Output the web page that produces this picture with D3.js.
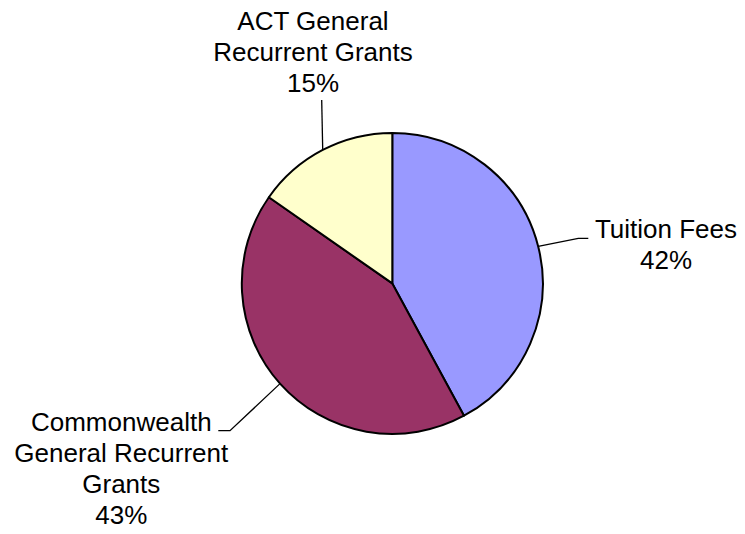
<!DOCTYPE html>
<html>
<head>
<meta charset="utf-8">
<script src="https://cdn.jsdelivr.net/npm/d3@7/dist/d3.min.js"></script>
<style>
  html, body { margin: 0; padding: 0; background: #fff; }
  svg { display: block; }
  text { font-family: "Liberation Sans", Arial, sans-serif; font-size: 26px; fill: #000; }
</style>
</head>
<body>
<svg id="chart" width="745" height="534"></svg>
<script>
// ---- data ----
const categories = ["Tuition Fees", "Commonwealth General Recurrent Grants", "ACT General Recurrent Grants"];
const values = [42.1, 42.6, 15.3];
const labelLines = [
  ["Tuition Fees"],
  ["Commonwealth", "General Recurrent", "Grants"],
  ["ACT General", "Recurrent Grants"]
];
const colors = ["#9999FF", "#993366", "#FFFFCC"];

// ---- layout (not data) ----
const W = 745, H = 534;
const cx = 392.3, cy = 283.4, R = 150.5;
const lineH = 31;
// label block: centre x, first baseline y, leader bend points (relative to label)
const labelLayout = [
  { x: 666, y: 238, leader: [[578.3, 238.3], [588.3, 238.3]] },
  { x: 121.3, y: 431, leader: [[230, 430.7], [218.3, 430.7]] },
  { x: 313, y: 30, leader: [[321.7, 100]] }
];

const svg = d3.select("#chart");
const g = svg.append("g").attr("transform", `translate(${cx},${cy})`);

const pie = d3.pie().sort(null).value(d => d)(values);
const arc = d3.arc().innerRadius(0).outerRadius(R);

g.selectAll("path.slice")
  .data(pie)
  .join("path")
  .attr("class", "slice")
  .attr("d", arc)
  .attr("fill", (d, i) => colors[i])
  .attr("stroke", "#000")
  .attr("stroke-width", 2)
  .attr("stroke-linejoin", "round");

const total = d3.sum(values);

pie.forEach((d, i) => {
  const mid = (d.startAngle + d.endAngle) / 2;
  const sx = cx + R * Math.sin(mid);
  const sy = cy - R * Math.cos(mid);
  const L = labelLayout[i];
  const pts = [[sx, sy]].concat(L.leader);
  svg.append("path")
    .attr("d", d3.line()(pts))
    .attr("fill", "none")
    .attr("stroke", "#000")
    .attr("stroke-width", 1.3);

  const lines = labelLines[i].concat([Math.round(values[i] / total * 100) + "%"]);
  const t = svg.append("text")
    .attr("text-anchor", "middle");
  lines.forEach((ln, k) => {
    t.append("tspan")
      .attr("x", L.x)
      .attr("y", L.y + k * lineH)
      .text(ln);
  });
});
</script>
</body>
</html>
